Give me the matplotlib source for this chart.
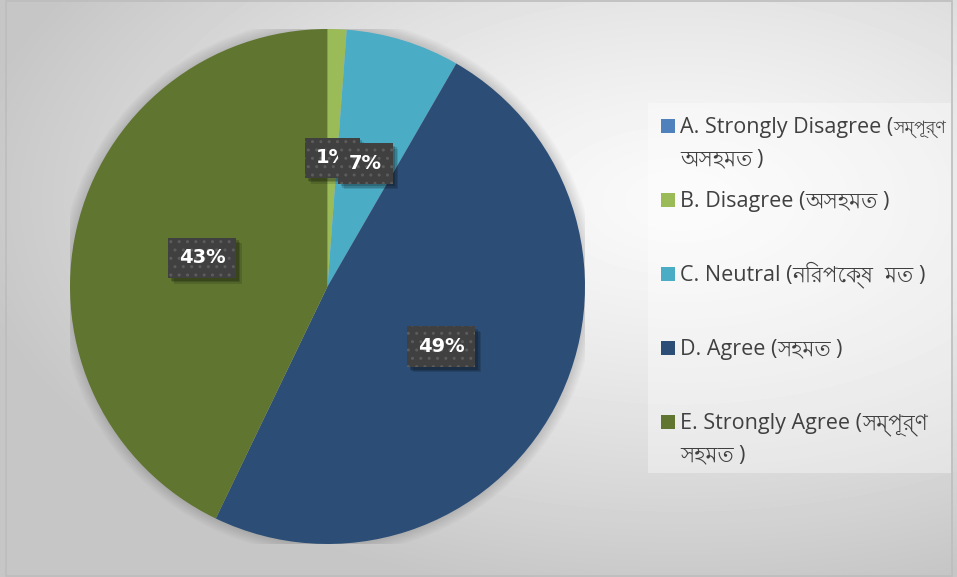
import numpy as np
import matplotlib
matplotlib.use("Agg")
import matplotlib.pyplot as plt
from matplotlib import font_manager
from matplotlib.ft2font import FT2Font
from matplotlib.patches import Rectangle, Circle
import matplotlib.patheffects as pe

# Survey responses (number of respondents per answer)
categories = [
    "A. Strongly Disagree (সম্পূর্ণ\nঅসহমত )",
    "B. Disagree (অসহমত )",
    "C. Neutral (নিরপেক্ষ  মত )",
    "D. Agree (সহমত )",
    "E. Strongly Agree (সম্পূর্ণ\nসহমত )",
]
counts = [0, 1, 6, 41, 36]
colors = ["#4f81bd", "#9bbb59", "#4bacc6", "#2c4d75", "#5f7530"]


def bengali_family():
    """Return the name of an installed family that covers Bengali script."""
    found = []
    for f in font_manager.fontManager.ttflist:
        try:
            if 0x09B8 in FT2Font(f.fname).get_charmap():
                found.append(f.name)
        except Exception:
            continue
    found.sort(key=lambda n: (0 if "Bengali" in n else 1, n))
    return found[0] if found else None


def is_bengali(ch):
    return 0x0980 <= ord(ch) <= 0x09FF


def script_runs(text):
    """Split a line into (is_bengali, chunk) runs. Spaces join the run they
    follow; spaces trailing a Bengali run move to the next Latin run."""
    runs = []
    for ch in text:
        kind = runs[-1][0] if (ch == " " and runs) else is_bengali(ch)
        if runs and runs[-1][0] == kind:
            runs[-1][1] += ch
        else:
            runs.append([kind, ch])
    out = []
    for i, (kind, chunk) in enumerate(runs):
        if kind and i + 1 < len(runs):
            stripped = chunk.rstrip(" ")
            runs[i + 1][1] = " " * (len(chunk) - len(stripped)) + runs[i + 1][1]
            chunk = stripped
        if chunk:
            out.append((kind, chunk))
    return out


latin = "Open Sans"
beng = bengali_family()
latin_family = [latin, "DejaVu Sans"]
beng_family = ([beng] if beng else []) + [latin, "DejaVu Sans"]

W, H = 957, 577
fig = plt.figure(figsize=(W / 100, H / 100), dpi=100)

# Background: soft radial gradient in a pixel-coordinate axes
bg = fig.add_axes([0, 0, 1, 1])
bg.set_axis_off()
yy, xx = np.mgrid[0:H, 0:W]
d = np.sqrt(((xx - 680) / 720.0) ** 2 + ((yy - 200) / 400.0) ** 2)
d = np.clip(d, 0, 1)
shade = 0.98 - (0.98 - 0.775) * d ** 1.3
bg.imshow(shade, cmap="gray", vmin=0, vmax=1, extent=(0, W, H, 0),
          interpolation="bilinear", zorder=0)
bg.set_xlim(0, W)
bg.set_ylim(H, 0)

# Chart border
bg.add_patch(Rectangle((6, 0.5), 946, 575.5, fill=False, edgecolor="#bdbdbd",
                       linewidth=1.2, zorder=1))

# Pie
cx, cy, r = 327.5, 286.5, 257.5
ax = fig.add_axes([(cx - r) / W, (H - cy - r) / H, 2 * r / W, 2 * r / H])
ax.set_xlim(-1, 1)
ax.set_ylim(-1, 1)
ax.set_axis_off()

# faint halo around the pie
for k in range(7):
    ax.add_patch(Circle((0, 0), 1.0 + 0.006 * (k + 1), facecolor="black",
                        edgecolor="none", alpha=0.02, zorder=0))

wedges, _, autotexts = ax.pie(
    counts, colors=colors, startangle=90, counterclock=False, radius=1,
    autopct=lambda p: f"{p:.0f}%" if p > 0 else "", pctdistance=0.5,
    wedgeprops=dict(linewidth=0), frame=False)
ax.set_xlim(-1, 1)
ax.set_ylim(-1, 1)

# soft drop shadow for the data-label boxes (no hatch in the shadow)
label_shadow = [
    pe.SimplePatchShadow(offset=(o, -o), shadow_rgbFace="black", alpha=a,
                         hatch=None)
    for o, a in ((4, 0.12), (3, 0.15), (2, 0.18))
] + [pe.Normal()]

for t in autotexts:
    if not t.get_text():
        continue
    t.set_color("white")
    t.set_fontweight("bold")
    t.set_fontsize(14)
    t.set_family("DejaVu Sans")
    t.set_bbox(dict(boxstyle="square,pad=0.55", facecolor="#404040",
                    edgecolor="#5c5c5c", linewidth=0, hatch=".."))
    t.get_bbox_patch().set_path_effects(label_shadow)

# Legend panel
panel_x0, panel_x1 = 648, 951
bg.add_patch(Rectangle((panel_x0, 103), panel_x1 - panel_x0, 370,
                       facecolor="white", alpha=0.35, edgecolor="none",
                       zorder=2))
first_line_y = [125.5, 200, 274, 348, 422]
line_gap = 32
text_x = 680
legend_size = 15.5
renderer = fig.canvas.get_renderer()
to_data = bg.transData.inverted()
space_px = 4.5

for label, color, yc in zip(categories, colors, first_line_y):
    bg.add_patch(Rectangle((661, yc - 7), 14, 14, facecolor=color,
                           edgecolor="none", zorder=3))
    for i, line in enumerate(label.split("\n")):
        base = yc + i * line_gap + 7.5
        x = text_x
        for kind, chunk in script_runs(line):
            lead = len(chunk) - len(chunk.lstrip(" "))
            x += lead * space_px
            chunk = chunk.lstrip(" ")
            t = bg.text(x, base, chunk, fontsize=legend_size,
                        family=beng_family if kind else latin_family,
                        color="#404040", va="baseline", ha="left", zorder=4)
            size = legend_size
            # keep the text inside the legend panel
            while size > 9:
                right = to_data.transform((t.get_window_extent(renderer).x1, 0))[0]
                if right <= panel_x1 - 4:
                    break
                size -= 0.5
                t.set_fontsize(size)
            x = to_data.transform((t.get_window_extent(renderer).x1, 0))[0]

fig.savefig("out.png", dpi=100)
